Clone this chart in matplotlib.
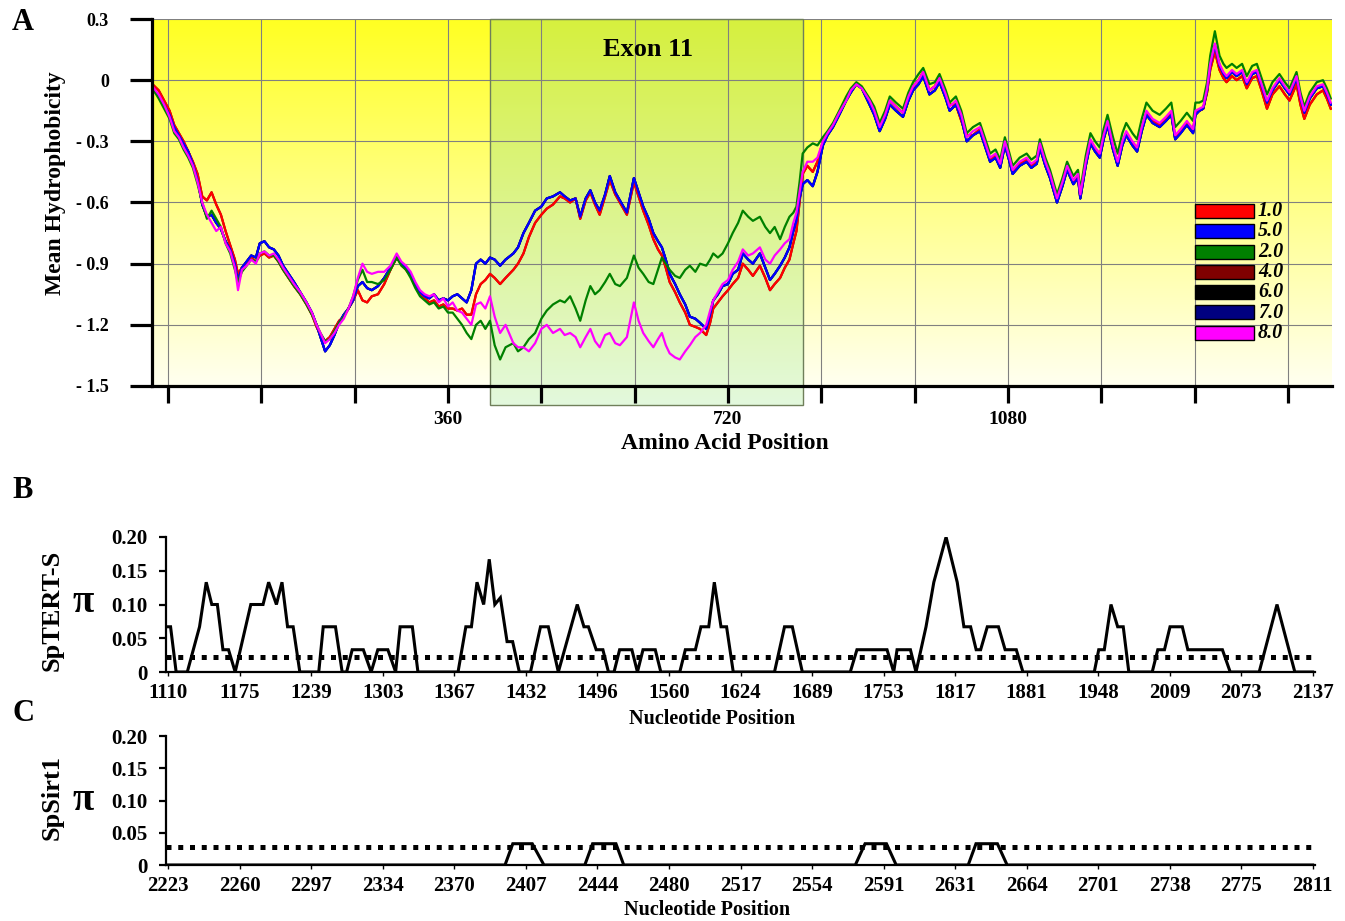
import numpy as np
import matplotlib
matplotlib.use('Agg')
import matplotlib.pyplot as plt
from matplotlib.patches import Rectangle
from matplotlib.colors import LinearSegmentedColormap

plt.rcParams['font.family'] = ['Liberation Serif', 'DejaVu Serif']
plt.rcParams['font.weight'] = 'bold'

# ---------------- DATA: panel A (mean hydrophobicity) ----------------
exon_start, exon_end = 414, 817

pos_pre = [-20, -12, -5, 2, 8, 14, 20, 26, 32, 38, 44, 50, 56, 62, 68, 74, 80, 86, 90, 95,
           101, 107, 113, 118, 124, 130, 136, 142, 148, 155, 162, 170, 178, 185, 191,
           196, 202, 208, 214, 220, 226, 232, 238, 244, 250, 256, 262, 270, 278, 286,
           294, 300, 306, 312, 318, 324, 330, 336, 342, 348, 354, 360, 366, 372, 378,
           384, 390, 396, 402]
pre_red = [-0.02, -0.05, -0.10, -0.15, -0.22, -0.26, -0.30, -0.35, -0.40, -0.46,
           -0.57, -0.59, -0.55, -0.61, -0.66, -0.74, -0.81, -0.88, -0.95, -0.92,
           -0.90, -0.87, -0.89, -0.86, -0.85, -0.87, -0.86, -0.89, -0.93, -0.97,
           -1.01, -1.05, -1.10, -1.15, -1.21, -1.25, -1.28, -1.26, -1.22, -1.18,
           -1.16, -1.12, -1.08, -1.03, -1.08, -1.09, -1.06, -1.05, -1.00, -0.93,
           -0.87, -0.90, -0.93, -0.96, -1.01, -1.05, -1.07, -1.09, -1.08, -1.11,
           -1.10, -1.12, -1.12, -1.13, -1.12, -1.15, -1.15, -1.05, -1.00]
pre_blue = [-0.04, -0.08, -0.12, -0.17, -0.23, -0.27, -0.31, -0.35, -0.41, -0.49,
            -0.61, -0.67, -0.66, -0.70, -0.73, -0.79, -0.83, -0.90, -0.98, -0.92,
            -0.89, -0.86, -0.87, -0.80, -0.79, -0.82, -0.83, -0.86, -0.91, -0.95,
            -0.99, -1.04, -1.09, -1.14, -1.20, -1.26, -1.33, -1.30, -1.25, -1.19,
            -1.15, -1.12, -1.08, -1.01, -0.99, -1.02, -1.03, -1.01, -0.97, -0.92,
            -0.87, -0.90, -0.92, -0.95, -1.00, -1.04, -1.06, -1.07, -1.05, -1.08,
            -1.07, -1.08, -1.06, -1.05, -1.07, -1.09, -1.03, -0.90, -0.88]
pre_green = [-0.04, -0.09, -0.14, -0.19, -0.26, -0.29, -0.34, -0.38, -0.43, -0.51,
             -0.60, -0.68, -0.64, -0.68, -0.72, -0.80, -0.85, -0.93, -0.99, -0.94,
             -0.91, -0.88, -0.89, -0.85, -0.84, -0.86, -0.86, -0.89, -0.93, -0.97,
             -1.01, -1.05, -1.10, -1.15, -1.20, -1.24, -1.28, -1.27, -1.23, -1.19,
             -1.16, -1.12, -1.06, -0.98, -0.93, -0.99, -0.99, -1.00, -0.98, -0.93,
             -0.87, -0.91, -0.93, -0.97, -1.02, -1.06, -1.08, -1.10, -1.09, -1.12,
             -1.11, -1.14, -1.14, -1.17, -1.20, -1.24, -1.27, -1.20, -1.18]
pre_magenta = [-0.03, -0.07, -0.12, -0.18, -0.25, -0.28, -0.33, -0.37, -0.42, -0.50,
               -0.60, -0.66, -0.70, -0.74, -0.72, -0.80, -0.84, -0.92, -1.03, -0.93,
               -0.91, -0.88, -0.90, -0.85, -0.84, -0.86, -0.85, -0.88, -0.92, -0.96,
               -1.00, -1.04, -1.09, -1.14, -1.20, -1.24, -1.29, -1.27, -1.24, -1.20,
               -1.17, -1.12, -1.06, -0.97, -0.90, -0.94, -0.95, -0.94, -0.94, -0.91,
               -0.85, -0.89, -0.91, -0.94, -0.99, -1.03, -1.05, -1.06, -1.05, -1.09,
               -1.07, -1.11, -1.09, -1.13, -1.14, -1.17, -1.20, -1.10, -1.09]

pos_exon = [408, 414, 420, 427, 434, 444, 450, 457, 464, 472, 480, 487, 495, 504, 510,
            517, 524, 530, 537, 543, 549, 555, 562, 568, 575, 581, 590, 599, 605, 611,
            618, 624, 630, 635, 640, 645, 652, 658, 665, 671, 678, 684, 692, 697, 701,
            707, 713, 720, 726, 733, 739, 746, 752, 761, 768, 774, 780, 787, 793, 799,
            804, 808, 812, 816, 822, 829, 835, 842, 848, 855, 863, 872, 878, 885, 892]
exon_red = [-0.98, -0.95, -0.97, -1.00, -0.97, -0.93, -0.90, -0.85, -0.77, -0.70,
            -0.66, -0.63, -0.61, -0.57, -0.58, -0.60, -0.58, -0.68, -0.59, -0.55,
            -0.61, -0.66, -0.57, -0.49, -0.56, -0.60, -0.66, -0.50, -0.57, -0.64,
            -0.71, -0.78, -0.83, -0.86, -0.92, -0.99, -1.04, -1.09, -1.14, -1.20,
            -1.21, -1.22, -1.25, -1.19, -1.12, -1.09, -1.06, -1.03, -1.00, -0.97,
            -0.90, -0.93, -0.96, -0.91, -0.97, -1.03, -1.00, -0.97, -0.92, -0.88,
            -0.80, -0.74, -0.60, -0.46, -0.42, -0.45, -0.40, -0.30, -0.26, -0.22,
            -0.16, -0.09, -0.05, -0.02, -0.04]
exon_blue = [-0.90, -0.87, -0.88, -0.91, -0.88, -0.85, -0.82, -0.75, -0.70, -0.64,
             -0.62, -0.58, -0.57, -0.55, -0.57, -0.59, -0.58, -0.67, -0.58, -0.54,
             -0.60, -0.64, -0.56, -0.47, -0.55, -0.59, -0.65, -0.48, -0.55, -0.62,
             -0.68, -0.75, -0.79, -0.82, -0.88, -0.95, -1.00, -1.05, -1.10, -1.16,
             -1.17, -1.19, -1.22, -1.15, -1.08, -1.05, -1.01, -1.00, -0.95, -0.93,
             -0.85, -0.88, -0.90, -0.85, -0.92, -0.98, -0.95, -0.91, -0.87, -0.82,
             -0.74, -0.69, -0.58, -0.51, -0.49, -0.52, -0.45, -0.32, -0.27, -0.23,
             -0.17, -0.10, -0.06, -0.02, -0.04]
exon_green = [-1.22, -1.18, -1.30, -1.37, -1.31, -1.29, -1.33, -1.31, -1.27, -1.24,
              -1.17, -1.13, -1.10, -1.08, -1.09, -1.06, -1.12, -1.18, -1.08, -1.01,
              -1.05, -1.03, -0.99, -0.95, -1.00, -1.01, -0.97, -0.86, -0.92, -0.95,
              -0.99, -1.00, -0.93, -0.87, -0.90, -0.93, -0.96, -0.97, -0.93, -0.91,
              -0.94, -0.90, -0.91, -0.88, -0.85, -0.87, -0.85, -0.80, -0.75, -0.70,
              -0.64, -0.67, -0.69, -0.67, -0.72, -0.75, -0.72, -0.78, -0.72, -0.67,
              -0.65, -0.62, -0.50, -0.36, -0.33, -0.31, -0.32, -0.28, -0.25, -0.21,
              -0.15, -0.08, -0.04, -0.01, -0.03]
exon_magenta = [-1.12, -1.06, -1.16, -1.24, -1.20, -1.29, -1.31, -1.31, -1.33, -1.29,
                -1.22, -1.20, -1.24, -1.22, -1.25, -1.24, -1.26, -1.31, -1.26, -1.22,
                -1.28, -1.31, -1.25, -1.24, -1.29, -1.30, -1.26, -1.09, -1.18, -1.24,
                -1.28, -1.31, -1.27, -1.24, -1.30, -1.34, -1.36, -1.37, -1.33, -1.30,
                -1.26, -1.24, -1.20, -1.13, -1.08, -1.04, -1.00, -0.98, -0.93, -0.89,
                -0.83, -0.86, -0.85, -0.82, -0.88, -0.90, -0.86, -0.83, -0.80, -0.78,
                -0.70, -0.65, -0.55, -0.45, -0.40, -0.40, -0.38, -0.30, -0.26, -0.22,
                -0.16, -0.10, -0.05, -0.02, -0.04]

pos_post = [902, 908, 915, 922, 928, 936, 945, 952, 958, 965, 971, 979, 986, 992, 1000,
            1005, 1013, 1020, 1027, 1035, 1044, 1050, 1057, 1064, 1070, 1076, 1082, 1086,
            1095, 1104, 1110, 1117, 1121, 1128, 1134, 1143, 1150, 1156, 1164, 1170, 1173,
            1180, 1186, 1192, 1198, 1203, 1208, 1215, 1221, 1227, 1232, 1240, 1246, 1252,
            1258, 1266, 1275, 1283, 1290, 1295, 1302, 1310, 1318, 1321, 1326, 1331, 1336,
            1340, 1346, 1352, 1357, 1361, 1368, 1374, 1381, 1387, 1394, 1400, 1406, 1413,
            1420, 1429, 1436, 1442, 1451, 1456, 1461, 1468, 1477, 1485, 1490, 1495]
post_base = [-0.10, -0.15, -0.23, -0.17, -0.10, -0.13, -0.16, -0.08, -0.03, 0.00,
             0.04, -0.05, -0.03, 0.01, -0.07, -0.13, -0.10, -0.17, -0.28, -0.25,
             -0.23, -0.30, -0.38, -0.36, -0.41, -0.30, -0.38, -0.44, -0.40, -0.38,
             -0.41, -0.39, -0.31, -0.40, -0.46, -0.58, -0.50, -0.42, -0.49, -0.46,
             -0.56, -0.40, -0.29, -0.33, -0.36, -0.27, -0.20, -0.32, -0.40, -0.30,
             -0.25, -0.30, -0.33, -0.23, -0.15, -0.19, -0.21, -0.18, -0.15, -0.27,
             -0.24, -0.20, -0.24, -0.15, -0.14, -0.13, -0.04, 0.08, 0.18, 0.08,
             0.04, 0.02, 0.05, 0.03, 0.05, -0.01, 0.04, 0.05, -0.02, -0.10,
             -0.04, 0.01, -0.03, -0.06, 0.02, -0.08, -0.15, -0.08, -0.03, -0.02,
             -0.06, -0.11]
post_red = [-0.10, -0.15, -0.23, -0.17, -0.10, -0.13, -0.16, -0.08, -0.03, 0.00,
            0.04, -0.05, -0.03, 0.01, -0.07, -0.12, -0.12, -0.20, -0.27, -0.27,
            -0.24, -0.31, -0.39, -0.37, -0.42, -0.31, -0.39, -0.45, -0.41, -0.39,
            -0.42, -0.40, -0.32, -0.41, -0.47, -0.59, -0.51, -0.43, -0.50, -0.47,
            -0.57, -0.41, -0.30, -0.34, -0.37, -0.28, -0.21, -0.33, -0.41, -0.31,
            -0.26, -0.31, -0.34, -0.24, -0.16, -0.20, -0.22, -0.19, -0.16, -0.28,
            -0.25, -0.21, -0.25, -0.16, -0.15, -0.14, -0.06, 0.05, 0.14, 0.05,
            0.01, -0.01, 0.02, 0.00, 0.02, -0.04, 0.01, 0.02, -0.05, -0.14,
            -0.07, -0.03, -0.07, -0.10, -0.02, -0.12, -0.19, -0.12, -0.07, -0.05,
            -0.09, -0.14]
post_green = [-0.09, -0.13, -0.21, -0.15, -0.08, -0.11, -0.14, -0.06, -0.01, 0.03,
              0.06, -0.02, -0.01, 0.03, -0.05, -0.11, -0.08, -0.15, -0.26, -0.23,
              -0.21, -0.28, -0.36, -0.34, -0.39, -0.28, -0.36, -0.42, -0.38, -0.36,
              -0.39, -0.37, -0.29, -0.38, -0.44, -0.56, -0.48, -0.40, -0.47, -0.44,
              -0.54, -0.37, -0.26, -0.30, -0.33, -0.24, -0.17, -0.28, -0.36, -0.26,
              -0.21, -0.26, -0.29, -0.19, -0.11, -0.15, -0.17, -0.14, -0.11, -0.23,
              -0.20, -0.16, -0.20, -0.11, -0.11, -0.10, -0.01, 0.12, 0.24, 0.12,
              0.08, 0.06, 0.08, 0.06, 0.08, 0.02, 0.07, 0.08, 0.01, -0.07,
              -0.01, 0.03, -0.01, -0.04, 0.04, -0.06, -0.13, -0.06, -0.01, 0.00,
              -0.04, -0.09]
post_dark = [-0.12, -0.17, -0.25, -0.19, -0.12, -0.15, -0.18, -0.10, -0.05, -0.02,
             0.02, -0.07, -0.05, -0.01, -0.09, -0.15, -0.12, -0.19, -0.30, -0.27,
             -0.25, -0.32, -0.40, -0.38, -0.43, -0.32, -0.40, -0.46, -0.42, -0.40,
             -0.43, -0.41, -0.33, -0.42, -0.48, -0.60, -0.52, -0.44, -0.51, -0.48,
             -0.58, -0.42, -0.31, -0.35, -0.38, -0.29, -0.22, -0.34, -0.42, -0.32,
             -0.27, -0.32, -0.35, -0.25, -0.17, -0.21, -0.23, -0.20, -0.17, -0.29,
             -0.26, -0.22, -0.26, -0.17, -0.15, -0.14, -0.05, 0.07, 0.17, 0.07,
             0.03, 0.01, 0.04, 0.02, 0.04, -0.02, 0.03, 0.04, -0.03, -0.11,
             -0.05, 0.00, -0.04, -0.07, 0.01, -0.09, -0.16, -0.09, -0.04, -0.03,
             -0.07, -0.12]

legend_labels = ['1.0', '5.0', '2.0', '4.0', '6.0', '7.0', '8.0']
legend_colors = ['#FF0000', '#0000FF', '#008000', '#800000', '#000000', '#000080', '#FF00FF']
series_parts = {
    '1.0': (pre_red, exon_red, post_red),
    '5.0': (pre_blue, exon_blue, post_dark),
    '2.0': (pre_green, exon_green, post_green),
    '4.0': (pre_red, exon_red, post_red),
    '6.0': (pre_blue, exon_blue, post_dark),
    '7.0': (pre_blue, exon_blue, post_dark),
    '8.0': (pre_magenta, exon_magenta, post_base),
}
draw_order = ['4.0', '6.0', '7.0', '1.0', '5.0', '2.0', '8.0']

aa_ticks = [0, 120, 240, 360, 480, 600, 720, 840, 960, 1080, 1200, 1320, 1440]
aa_ticklabels = ['', '', '', '360', '', '', '720', '', '', '1080', '', '', '']
hyd_ticks = [-1.5, -1.2, -0.9, -0.6, -0.3, 0.0, 0.3]
hyd_ticklabels = ['- 1.5', '- 1.2', '- 0.9', '- 0.6', '- 0.3', '0', '0.3']

# ---------------- DATA: panel B (SpTERT-S nucleotide diversity) ----------------
tert_pos = [1109, 1112, 1117, 1127, 1138, 1144, 1149, 1154, 1159, 1164,
            1170, 1184, 1195, 1200, 1207, 1212, 1217, 1222, 1228, 1245,
            1249, 1260, 1266, 1270, 1275, 1285, 1292, 1298, 1307, 1314,
            1318, 1329, 1334, 1370, 1377, 1382, 1387, 1393, 1398, 1403,
            1408, 1414, 1419, 1425, 1435, 1444, 1451, 1460, 1477, 1483,
            1487, 1494, 1500, 1505, 1510, 1515, 1526, 1531, 1536, 1547,
            1552, 1569, 1574, 1583, 1588, 1595, 1600, 1606, 1611, 1617,
            1654, 1663, 1670, 1679, 1722, 1728, 1755, 1761, 1764, 1776,
            1781, 1790, 1797, 1808, 1818, 1824, 1830, 1835, 1839, 1845,
            1855, 1861, 1871, 1877, 1941, 1945, 1950, 1956, 1962, 1967,
            1972, 1993, 1998, 2004, 2009, 2020, 2025, 2056, 2063, 2089,
            2105, 2121, 2137]
tert_pi = [0.067, 0.067, 0, 0, 0.067, 0.133, 0.10, 0.10, 0.033, 0.033,
           0, 0.10, 0.10, 0.133, 0.10, 0.133, 0.067, 0.067, 0, 0,
           0.067, 0.067, 0, 0, 0.033, 0.033, 0, 0.033, 0.033, 0,
           0.067, 0.067, 0, 0, 0.067, 0.067, 0.133, 0.10, 0.167, 0.10,
           0.11, 0.045, 0.045, 0, 0, 0.067, 0.067, 0, 0.10, 0.067,
           0.067, 0.033, 0.033, 0, 0, 0.033, 0.033, 0, 0.033, 0.033,
           0, 0, 0.033, 0.033, 0.067, 0.067, 0.133, 0.067, 0.067, 0,
           0, 0.067, 0.067, 0, 0, 0.033, 0.033, 0, 0.033, 0.033,
           0, 0.067, 0.133, 0.20, 0.133, 0.067, 0.067, 0.033, 0.033, 0.067,
           0.067, 0.033, 0.033, 0, 0, 0.033, 0.033, 0.10, 0.067, 0.067,
           0, 0, 0.033, 0.033, 0.067, 0.067, 0.033, 0.033, 0, 0,
           0.10, 0, 0]
tert_threshold = 0.022
tert_ticklabels = ['1110', '1175', '1239', '1303', '1367', '1432', '1496', '1560', '1624',
                   '1689', '1753', '1817', '1881', '1948', '2009', '2073', '2137']

# ---------------- DATA: panel C (SpSirt1 nucleotide diversity) ----------------
sirt_pos = [2223, 2396, 2400, 2410, 2416, 2437, 2441, 2453, 2457,
            2576, 2581, 2592, 2597, 2634, 2638, 2649, 2654, 2811]
sirt_pi = [0, 0, 0.033, 0.033, 0, 0, 0.033, 0.033, 0,
           0, 0.033, 0.033, 0, 0, 0.033, 0.033, 0, 0]
sirt_threshold = 0.028
sirt_ticklabels = ['2223', '2260', '2297', '2334', '2370', '2407', '2444', '2480', '2517',
                   '2554', '2591', '2631', '2664', '2701', '2738', '2775', '2811']
pi_ticks = [0, 0.05, 0.10, 0.15, 0.20]
pi_ticklabels = ['0', '0.05', '0.10', '0.15', '0.20']

# ---------------- FIGURE ----------------
W, H = 1345, 921
fig = plt.figure(figsize=(W / 100, H / 100), dpi=100)
fig.patch.set_facecolor('white')


def fx(px):
    return px / W


def fy(py):
    return 1 - py / H


def box(l, t, r, b):
    return [fx(l), fy(b), (r - l) / W, (b - t) / H]


# ---- Panel A ----
axA = fig.add_axes(box(152, 19, 1332, 386))
xlo, xhi = -20.6, 1496.6
ylo, yhi = -1.5, 0.3
grad = np.linspace(0, 1, 256).reshape(-1, 1)
bg_cmap = LinearSegmentedColormap.from_list('bg', ['#FFFFF0', '#FFFF22'])
axA.imshow(grad, cmap=bg_cmap, extent=[xlo, xhi, ylo, yhi], aspect='auto',
           origin='lower', zorder=0, interpolation='bilinear')
ex_bottom = -1.593
ex_cmap = LinearSegmentedColormap.from_list('ex', ['#E3F9DD', '#D6F03E'])
im = axA.imshow(grad, cmap=ex_cmap, extent=[exon_start, exon_end, ex_bottom, yhi],
                aspect='auto', origin='lower', zorder=0.5, interpolation='bilinear')
im.set_clip_on(False)
axA.add_patch(Rectangle((exon_start, ex_bottom), exon_end - exon_start, yhi - ex_bottom,
                        fill=False, edgecolor='#6F7F5A', lw=1.0, zorder=1.6, clip_on=False))

for i, lab in enumerate(draw_order):
    pre, ex, post = series_parts[lab]
    xs = np.concatenate([pos_pre, pos_exon, pos_post])
    ys = np.concatenate([pre, ex, post])
    col = legend_colors[legend_labels.index(lab)]
    axA.plot(xs, ys, color=col, lw=1.6, zorder=3 + i, solid_joinstyle='round')

axA.set_xlim(xlo, xhi)
axA.set_ylim(ylo, yhi)
axA.set_xticks(aa_ticks)
axA.set_xticklabels(aa_ticklabels)
axA.set_yticks(hyd_ticks)
axA.set_yticklabels(hyd_ticklabels)
axA.grid(True, color='#808080', lw=0.8)
for s in ['top', 'right']:
    axA.spines[s].set_visible(False)
for s in ['left', 'bottom']:
    axA.spines[s].set_linewidth(2.3)
    axA.spines[s].set_zorder(20)
axA.tick_params(axis='x', direction='out', length=12, width=2.3, pad=6, labelsize=14)
axA.tick_params(axis='y', direction='out', length=16, width=2.3, pad=15, labelsize=13)

fig.text(fx(648), fy(50), 'Exon 11', ha='center', va='center', fontsize=19, fontweight='bold')
fig.text(fx(55), fy(183), 'Mean Hydrophobicity', rotation=90, ha='center', va='center',
         fontsize=17, fontweight='bold')
fig.text(fx(725), fy(443), 'Amino Acid Position', ha='center', va='center',
         fontsize=17, fontweight='bold')
fig.text(fx(23), fy(22), 'A', ha='center', va='center', fontsize=22, fontweight='bold')

# legend (manual swatches)
for i, (lab, col) in enumerate(zip(legend_labels, legend_colors)):
    top = 204 + i * 20.3
    fig.patches.append(Rectangle((fx(1195), fy(top + 14)), (1254 - 1195) / W, 14 / H,
                                 transform=fig.transFigure, facecolor=col,
                                 edgecolor='black', lw=1.0, zorder=30))
    fig.text(fx(1258), fy(top + 7), lab, ha='left', va='center', fontsize=14.5,
             fontweight='bold', style='italic', zorder=30)

# ---- Panel B & C ----
def pi_panel(rect, pos, vals, thr, labels, xlo_, xhi_, tick_lo, tick_hi):
    ax = fig.add_axes(rect)
    ax.plot(pos, vals, color='black', lw=2.2, zorder=3, solid_joinstyle='miter')
    ax.axhline(thr, xmin=0, xmax=0.997, color='black', lw=3.6,
               linestyle=(0, (1.0, 1.35)), zorder=2)
    ax.set_xlim(xlo_, xhi_)
    ax.set_ylim(0, 0.2)
    ax.set_xticks(np.linspace(tick_lo, tick_hi, len(labels)))
    ax.set_xticklabels(labels)
    ax.set_yticks(pi_ticks)
    ax.set_yticklabels(pi_ticklabels)
    for s in ['top', 'right']:
        ax.spines[s].set_visible(False)
    for s in ['left', 'bottom']:
        ax.spines[s].set_linewidth(1.6)
    ax.tick_params(axis='x', direction='out', length=3, width=1.0, pad=5, labelsize=15)
    ax.tick_params(axis='y', direction='out', length=5, width=1.6, pad=8, labelsize=15)
    ax.patch.set_alpha(0)
    return ax


axB = pi_panel(box(166, 537, 1315, 672), tert_pos, tert_pi, tert_threshold,
               tert_ticklabels, 1107.9, 2139.1, 1110, 2137)
axC = pi_panel(box(166, 736, 1315, 865), sirt_pos, sirt_pi, sirt_threshold,
               sirt_ticklabels, 2221.8, 2812.2, 2223, 2811)

fig.text(fx(23), fy(490), 'B', ha='center', va='center', fontsize=22, fontweight='bold')
fig.text(fx(23), fy(713), 'C', ha='center', va='center', fontsize=22, fontweight='bold')
fig.text(fx(52), fy(610), 'SpTERT-S', rotation=90, ha='center', va='center',
         fontsize=19, fontweight='bold')
fig.text(fx(83), fy(603), 'π', ha='center', va='center', fontsize=28, fontweight='bold')
fig.text(fx(52), fy(797), 'SpSirt1', rotation=90, ha='center', va='center',
         fontsize=19, fontweight='bold')
fig.text(fx(83), fy(800), 'π', ha='center', va='center', fontsize=28, fontweight='bold')
fig.text(fx(712), fy(719), 'Nucleotide Position', ha='center', va='center',
         fontsize=14.5, fontweight='bold')
fig.text(fx(707), fy(910), 'Nucleotide Position', ha='center', va='center',
         fontsize=14.5, fontweight='bold')

fig.savefig('out.png', dpi=100)
